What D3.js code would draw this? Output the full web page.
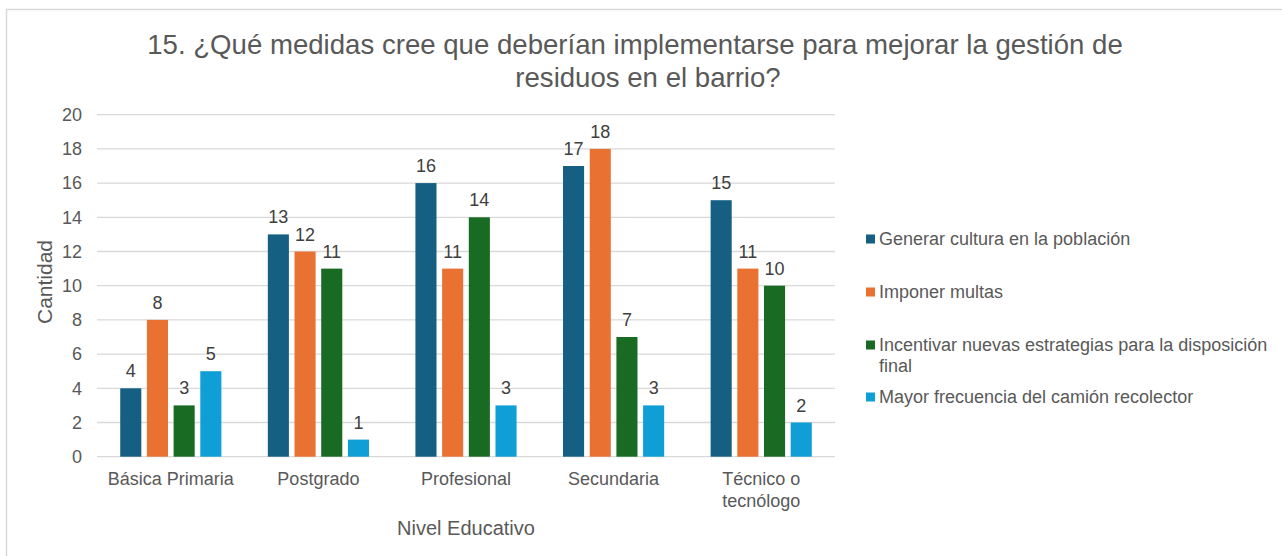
<!DOCTYPE html>
<html><head><meta charset="utf-8">
<script src="https://cdn.jsdelivr.net/npm/d3@7"></script>
<style>body{margin:0;background:#fff;} svg{display:block;font-family:"Liberation Sans",Arial,sans-serif;}</style>
</head><body>
<svg id="c" width="1282" height="556"></svg>
<script>
const categories = ["Básica Primaria","Postgrado","Profesional","Secundaria","Técnico o tecnólogo"];
const categoryLines = [["Básica Primaria"],["Postgrado"],["Profesional"],["Secundaria"],["Técnico o","tecnólogo"]];
const seriesNames = ["Generar cultura en la población","Imponer multas","Incentivar nuevas estrategias para la disposición final","Mayor frecuencia del camión recolector"];
const legendLines = [["Generar cultura en la población"],["Imponer multas"],["Incentivar nuevas estrategias para la disposición","final"],["Mayor frecuencia del camión recolector"]];
const generarCultura = [4,13,16,17,15];
const imponerMultas = [8,12,11,18,11];
const incentivarEstrategias = [3,11,14,7,10];
const mayorFrecuencia = [5,1,3,3,2];
const seriesValues = [generarCultura, imponerMultas, incentivarEstrategias, mayorFrecuencia];
const colors = ["#156082","#E97132","#196B24","#0F9ED5"];
const yTicks = [0,2,4,6,8,10,12,14,16,18,20];
const titleLines = ["15. ¿Qué medidas cree que deberían implementarse para mejorar la gestión de","residuos en el barrio?"];

(function(){
const svg = d3.select("#c");
const txt = "#595959";
svg.append("rect").attr("x",6.5).attr("y",9.5).attr("width",1300).attr("height",600)
  .attr("fill","#fff").attr("stroke","#d9d9d9").attr("stroke-width",1.5);

const pL=97, pR=835, pT=114.7, pB=456.7;
const y = d3.scaleLinear().domain([0,20]).range([pB,pT]);
const x0 = d3.scaleBand().domain(categories).range([pL,pR]).padding(0);
const x1 = d3.scaleBand().domain(d3.range(seriesNames.length)).range([0,x0.bandwidth()]).paddingInner(0.21).paddingOuter(0.87);

svg.append("g").selectAll("line").data(yTicks).join("line")
  .attr("x1",pL).attr("x2",pR).attr("y1",d=>y(d)).attr("y2",d=>y(d))
  .attr("stroke","#d9d9d9").attr("stroke-width",1.3);

svg.append("g").selectAll("text").data(yTicks).join("text")
  .attr("x",82).attr("y",d=>y(d)).attr("dy","0.35em").attr("text-anchor","end")
  .attr("font-size",18).attr("fill",txt).text(d=>d);

const g = svg.append("g");
categories.forEach((c,ci)=>{
  seriesValues.forEach((vals,si)=>{
    const v = vals[ci];
    const bx = x0(c)+x1(si);
    g.append("rect").attr("x",bx).attr("y",y(v)).attr("width",x1.bandwidth()).attr("height",y(0)-y(v))
      .attr("fill",colors[si]);
    g.append("text").attr("x",bx+x1.bandwidth()/2).attr("y",y(v)-11).attr("text-anchor","middle")
      .attr("font-size",18).attr("fill","#404040").text(v);
  });
});

categories.forEach((c,ci)=>{
  const cx = x0(c)+x0.bandwidth()/2;
  const t = svg.append("text").attr("y",485).attr("text-anchor","middle")
    .attr("font-size",18).attr("fill",txt);
  categoryLines[ci].forEach((l,li)=>t.append("tspan").attr("x",cx).attr("dy",li?22:0).text(l));
});

svg.append("text").attr("x",(pL+pR)/2).attr("y",535).attr("text-anchor","middle")
  .attr("font-size",20).attr("fill",txt).text("Nivel Educativo");
svg.append("text").attr("transform","translate(52,282) rotate(-90)").attr("text-anchor","middle")
  .attr("font-size",21).attr("fill",txt).text("Cantidad");

const titleX = [635,648];
titleLines.forEach((l,i)=>svg.append("text").attr("x",titleX[i]).attr("y",54+i*33).attr("text-anchor","middle")
  .attr("font-size",27.6).attr("fill",txt).text(l));

const legY = [239,292,345,397];
seriesNames.forEach((s,i)=>{
  svg.append("rect").attr("x",866).attr("y",legY[i]-4.5).attr("width",9).attr("height",9).attr("fill",colors[i]);
  const t = svg.append("text").attr("y",legY[i])
    .attr("font-size",18).attr("fill",txt);
  legendLines[i].forEach((l,li)=>t.append("tspan").attr("x",879).attr("dy",li?21:"0.35em").text(l));
});
})();
</script>
</body></html>
